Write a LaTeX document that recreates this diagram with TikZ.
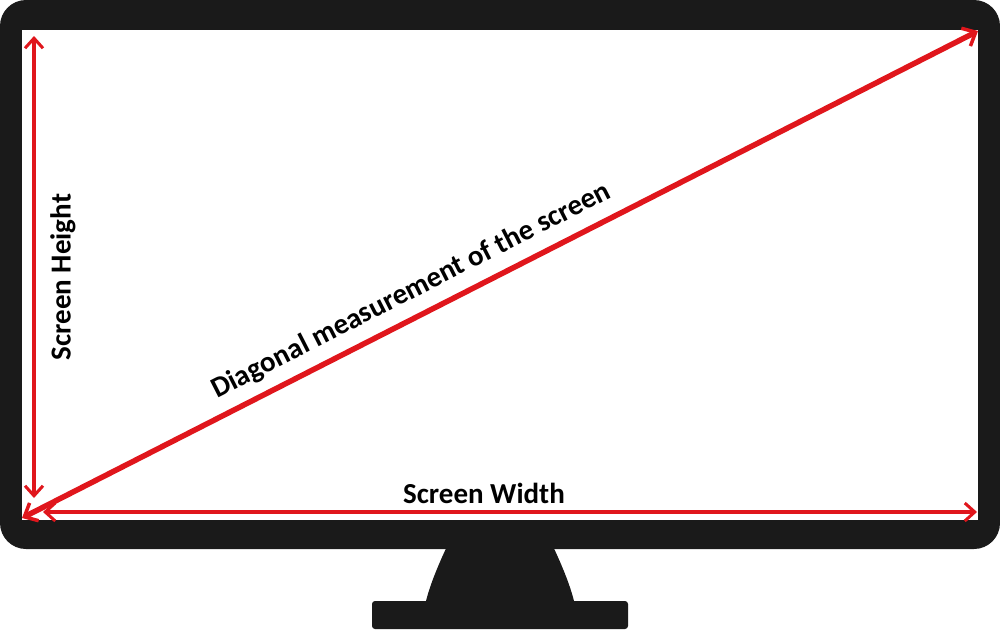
\documentclass[tikz,border=0pt]{standalone}
\usepackage{fontspec}
\setmainfont{Carlito}
\usetikzlibrary{arrows.meta}
\definecolor{bezel}{HTML}{1A1A1A}
\definecolor{arrowred}{HTML}{E0161C}
\tikzset{
  meas/.style={draw=arrowred, line width=3.5pt, {Straight Barb[length=10pt,width=18pt,line width=3pt]}-{Straight Barb[length=10pt,width=18pt,line width=3pt]}},
  diag/.style={draw=arrowred, line width=5.5pt, {Straight Barb[length=11pt,width=20pt,line width=3.5pt]}-{Straight Barb[length=11pt,width=20pt,line width=3.5pt]}},
  lbl/.style={font=\bfseries\fontsize{29}{32}\selectfont, text=black, inner sep=0pt}
}
\begin{document}
\begin{tikzpicture}[x=1pt,y=-1pt]
\useasboundingbox (0,0) rectangle (1000,629);
% stand
\fill[bezel] (450,540) .. controls (438,565) and (430,585) .. (426,601) -- (574,601) .. controls (570,585) and (562,565) .. (550,540) -- cycle;
\fill[bezel, rounded corners=3pt] (372,601) rectangle (628,629);
% bezel
\fill[bezel, rounded corners=26pt] (0,0) rectangle (1000,549);
\fill[white] (22,30) rectangle (978,520);
% coordinates
\coordinate (ht) at (34,36);
\coordinate (hb) at (34,498);
\coordinate (wl) at (43,512);
\coordinate (wr) at (977,512);
\coordinate (dl) at (22,518);
\coordinate (dr) at (978,31);
\draw[meas] (hb) -- (ht);
\draw[meas] (wl) -- (wr);
\draw[diag] (dl) -- (dr);
\node[lbl, rotate=90] (hl) at (63,277) {Screen Height};
\node[lbl] (wlab) at (484,493) {Screen Width};
\node[lbl, rotate=27.04] (dlab) at (411,291) {Diagonal measurement of the screen};
\end{tikzpicture}
\end{document}
